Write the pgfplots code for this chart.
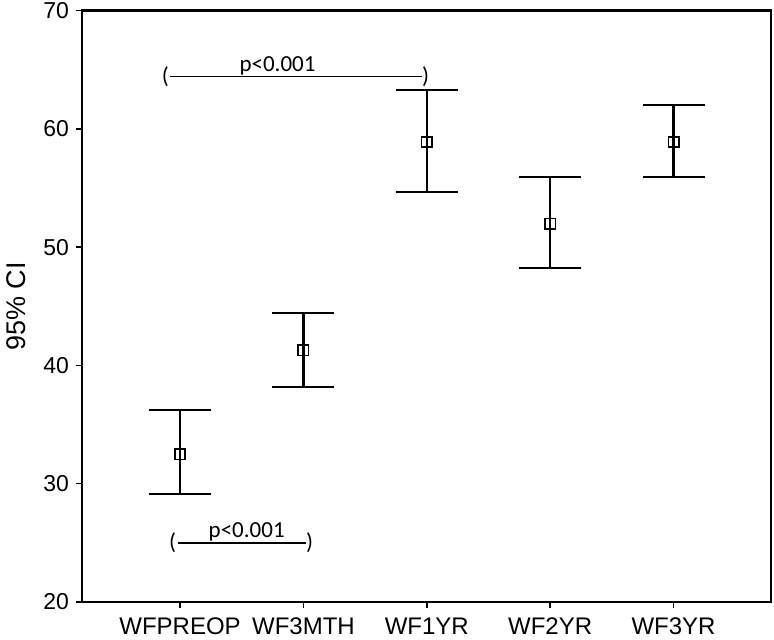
\documentclass[border=0pt]{standalone}
\usepackage{fontspec}
\setmainfont{Liberation Sans}
\newfontfamily\calib{Carlito}
\usepackage{pgfplots}
\usepackage{pgfplotstable}
\pgfplotsset{compat=1.18}

% mean, CI upper minus mean, mean minus CI lower
\pgfplotstableread{
x y ep em
0 32.50 3.69 3.38
1 41.26 3.14 3.08
2 58.88 4.42 4.23
3 51.98 3.94 3.78
4 58.88 3.15 2.96
}\cidata

\begin{document}
\begin{tikzpicture}
\begin{axis}[
    scale only axis,
    width=344.5pt, height=295.75pt,
    xmin=-0.795, xmax=4.79,
    ymin=20, ymax=70,
    ytick={20,30,40,50,60,70},
    xtick=data,
    xticklabels={WFPREOP,WF3MTH,WF1YR,WF2YR,WF3YR},
    tick align=outside,
    major tick length=3pt,
    tick pos=left,
    axis line style={line width=1.1pt},
    every tick/.style={black, line width=0.8pt},
    yticklabel style={font=\fontsize{11.5}{13}\selectfont, xshift=0pt},
    xticklabel style={font=\fontsize{12}{14}\selectfont, yshift=-1.5pt},
    /pgf/number format/assume math mode=true,
    ylabel={95\% CI},
    every axis y label/.style={at={(axis description cs:0,0.5)}, rotate=90,
        anchor=center, yshift=33pt, font=\fontsize{13.5}{15}\selectfont},
    clip=false,
]
\addplot[black, line width=1.1pt, only marks, mark=square, mark size=2.6pt,
    mark options={line width=0.8pt, fill=white},
    error bars/.cd, y dir=both, y explicit,
    error bar style={line width=1.1pt},
    error mark options={line width=1pt, mark size=15.5pt, rotate=90}]
    table[x=x, y=y, y error plus=ep, y error minus=em] {\cidata};

% significance brackets
\addplot[black, line width=0.7pt, no marks] coordinates {(-0.08,64.4) (1.96,64.4)};
\addplot[black, line width=0.7pt, no marks] coordinates {(-0.02,25) (1.02,25)};
\node[font=\calib\fontsize{11.5}{13}\selectfont] at (axis cs:-0.12,64.4) {(};
\node[font=\calib\fontsize{11.5}{13}\selectfont] at (axis cs:1.99,64.4) {)};
\node[font=\calib\fontsize{11.5}{13}\selectfont, anchor=south, inner sep=0.5pt] at (axis cs:0.79,64.4) {p<0.001};
\node[font=\calib\fontsize{11.5}{13}\selectfont] at (axis cs:-0.06,25) {(};
\node[font=\calib\fontsize{11.5}{13}\selectfont] at (axis cs:1.05,25) {)};
\node[font=\calib\fontsize{11.5}{13}\selectfont, anchor=south, inner sep=0.5pt] at (axis cs:0.54,25) {p<0.001};

\coordinate (ll) at (rel axis cs:0,0);
\coordinate (ur) at (rel axis cs:1,1);
\end{axis}
\draw[line width=1.1pt] (ll) rectangle (ur);
\pgfresetboundingbox
\path ([shift={(-41pt,-19pt)}]ll) rectangle ([shift={(1.5pt,5.25pt)}]ur);
\end{tikzpicture}
\end{document}
